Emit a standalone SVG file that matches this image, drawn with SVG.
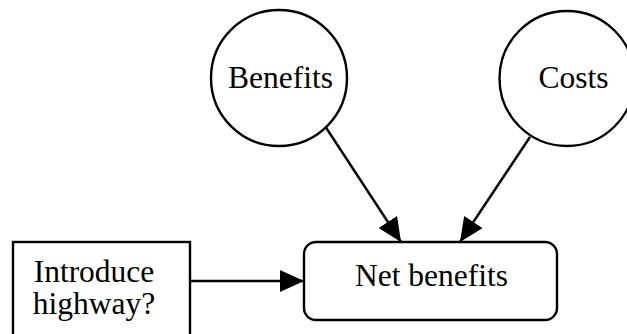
<svg xmlns="http://www.w3.org/2000/svg" width="627" height="334" viewBox="0 0 627 334">
  <style>
    .shape { fill: #ffffff; stroke: #000000; stroke-width: 2.4; }
    .label { font-family: "Liberation Serif", "Times New Roman", serif; font-size: 31.5px; fill: #000000; text-anchor: middle; }
    .edge { fill: none; stroke: #000000; stroke-width: 2.4; marker-end: url(#arrow); }
  </style>
  <defs>
    <marker id="arrow" markerUnits="userSpaceOnUse" markerWidth="24" markerHeight="22" viewBox="0 0 24 22" refX="24" refY="11" orient="auto">
      <path d="M0,0 L24,11 L0,22 Z" fill="#000000"/>
    </marker>
  </defs>
  <rect width="627" height="334" fill="#ffffff"/>

  <g id="connectors">
    <line class="edge" x1="325" y1="126" x2="401" y2="242"/>
    <line class="edge" x1="530" y1="137" x2="460" y2="242"/>
    <line class="edge" x1="190" y1="281" x2="304" y2="281"/>
  </g>

  <g id="benefits">
    <circle class="shape" cx="279" cy="78" r="68"/>
    <text class="label" x="280.5" y="88">Benefits</text>
  </g>

  <g id="costs">
    <circle class="shape" cx="567" cy="78.5" r="67.5"/>
    <text class="label" x="573.5" y="88">Costs</text>
  </g>

  <g id="introduce-highway">
    <rect class="shape" x="13" y="242" width="177" height="100"/>
    <text class="label" x="94" y="282">Introduce</text>
    <text class="label" x="94" y="314">highway?</text>
  </g>

  <g id="net-benefits">
    <rect class="shape" x="304" y="242" width="253" height="78" rx="12" ry="12"/>
    <text class="label" x="431.5" y="286">Net benefits</text>
  </g>
</svg>
